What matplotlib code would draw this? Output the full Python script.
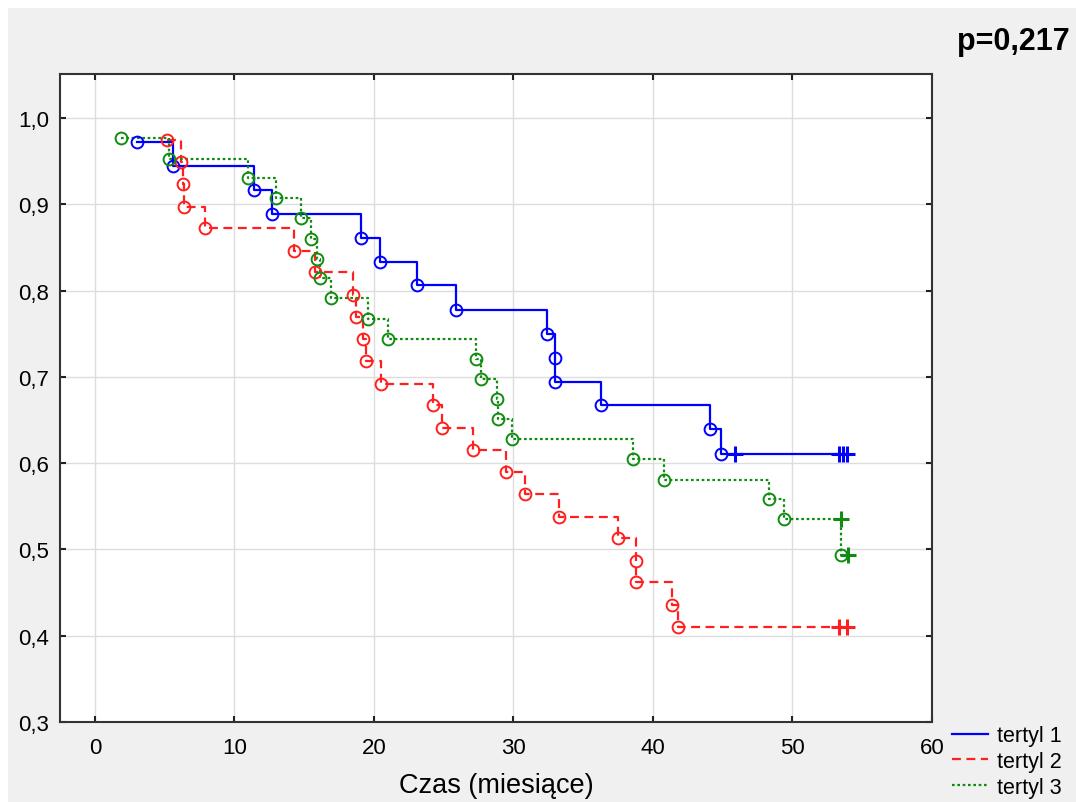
"""
Kaplan-Meier curves by tertile (recreated chart).
"""

import matplotlib
matplotlib.use("Agg")
import matplotlib.pyplot as plt
from matplotlib.patches import Rectangle
from matplotlib.ticker import FuncFormatter

plt.rcParams["font.family"] = ["Liberation Sans", "DejaVu Sans"]

# tertyl 1: event times / survival after event, censored times / level
t1_events = [3.0, 5.6, 11.4, 12.7, 19.1, 20.4, 23.1, 25.9, 32.4, 33.0, 33.0, 36.3, 44.1, 44.9]
s1_events = [0.972, 0.944, 0.917, 0.889, 0.861, 0.833, 0.806, 0.778, 0.750, 0.722, 0.694, 0.667, 0.639, 0.611]
t1_cens = [45.9, 53.3, 53.6, 53.9]
s1_cens = [0.611, 0.611, 0.611, 0.611]

# tertyl 2
t2_events = [5.2, 6.2, 6.3, 6.4, 7.9, 14.3, 15.8, 18.5, 18.7, 19.2, 19.4, 20.5,
             24.2, 24.9, 27.1, 29.5, 30.8, 33.3, 37.5, 38.8, 38.8, 41.4, 41.8]
s2_events = [0.974, 0.949, 0.923, 0.897, 0.872, 0.846, 0.821, 0.795, 0.769, 0.744, 0.718, 0.692,
             0.667, 0.641, 0.615, 0.590, 0.564, 0.538, 0.513, 0.487, 0.462, 0.436, 0.410]
t2_cens = [53.3, 53.9]
s2_cens = [0.410, 0.410]

# tertyl 3
t3_events = [1.9, 5.3, 11.0, 13.0, 14.8, 15.5, 15.9, 16.1, 16.9, 19.6, 21.0, 27.3, 27.7,
             28.8, 28.9, 29.9, 38.6, 40.8, 48.3, 49.4, 53.5]
s3_events = [0.977, 0.953, 0.930, 0.907, 0.884, 0.860, 0.837, 0.814, 0.791, 0.767, 0.744, 0.721, 0.698,
             0.674, 0.651, 0.628, 0.605, 0.581, 0.558, 0.535, 0.493]
t3_cens = [53.45, 54.0]
s3_cens = [0.535, 0.493]

labels = ["tertyl 1", "tertyl 2", "tertyl 3"]
colors = ["#0000ff", "#ff1f1f", "#108c10"]
styles = ["-", (0, (4, 2.5)), (0, (1.2, 1.2))]
p_text = "p=0,217"


def step_points(te, se, tc, sc):
    pts = sorted(list(zip(te, se)) + list(zip(tc, sc)), key=lambda p: (p[0], -p[1]))
    return [p[0] for p in pts], [p[1] for p in pts]


fig = plt.figure(figsize=(10.76, 8.03), dpi=100, facecolor="white")
fig.patches.append(Rectangle((8 / 1076, 0), 1, 1 - 9 / 803, transform=fig.transFigure,
                             facecolor="#f0f0f0", edgecolor="none", zorder=-10))

ax = fig.add_axes([60 / 1076, 1 - 723 / 803, (932 - 60) / 1076, (723 - 75) / 803])
ax.set_facecolor("white")

series = [
    (t1_events, s1_events, t1_cens, s1_cens),
    (t2_events, s2_events, t2_cens, s2_cens),
    (t3_events, s3_events, t3_cens, s3_cens),
]

handles = []
for (te, se, tc, sc), lab, col, ls in zip(series, labels, colors, styles):
    xs, ys = step_points(te, se, tc, sc)
    h, = ax.step(xs, ys, where="post", color=col, linestyle=ls, lw=1.6, label=lab, zorder=3)
    handles.append(h)
    ax.plot(te, se, linestyle="none", marker="o", markersize=8.5, markerfacecolor="none",
            markeredgecolor=col, markeredgewidth=1.4, zorder=4)
    ax.plot(tc, sc, linestyle="none", marker="+", markersize=11, markeredgecolor=col,
            markeredgewidth=2.2, zorder=4)

ax.set_xlim(-2.5, 60)
ax.set_ylim(0.3, 1.051)
ax.set_xticks(range(0, 61, 10))
ax.set_yticks([0.3, 0.4, 0.5, 0.6, 0.7, 0.8, 0.9, 1.0])
ax.yaxis.set_major_formatter(FuncFormatter(lambda v, p: f"{v:.1f}".replace(".", ",")))
ax.grid(True, color="#dddddd", lw=1)
ax.set_axisbelow(True)
ax.tick_params(direction="in", length=4, width=1.5, top=True, right=True,
               labelsize=16, colors="#222222", labelcolor="black")
ax.tick_params(axis="x", pad=11)
ax.tick_params(axis="y", pad=8)
for sp in ax.spines.values():
    sp.set_color("#333333")
    sp.set_linewidth(1.5)

ax.set_xlabel("Czas (miesiące)", fontsize=19.5, labelpad=10)

fig.text(1070 / 1076, 1 - 42 / 803, p_text, ha="right", va="center",
         fontsize=22, fontweight="bold")

leg = fig.legend(handles=handles, labels=labels, loc="upper left",
                 bbox_to_anchor=(937 / 1076, 1 - 711 / 803), frameon=False,
                 fontsize=15.5, handlelength=1.65, handletextpad=0.45,
                 labelspacing=0.22, borderpad=0.2)

fig.savefig("out.png", dpi=100, facecolor=fig.get_facecolor())
